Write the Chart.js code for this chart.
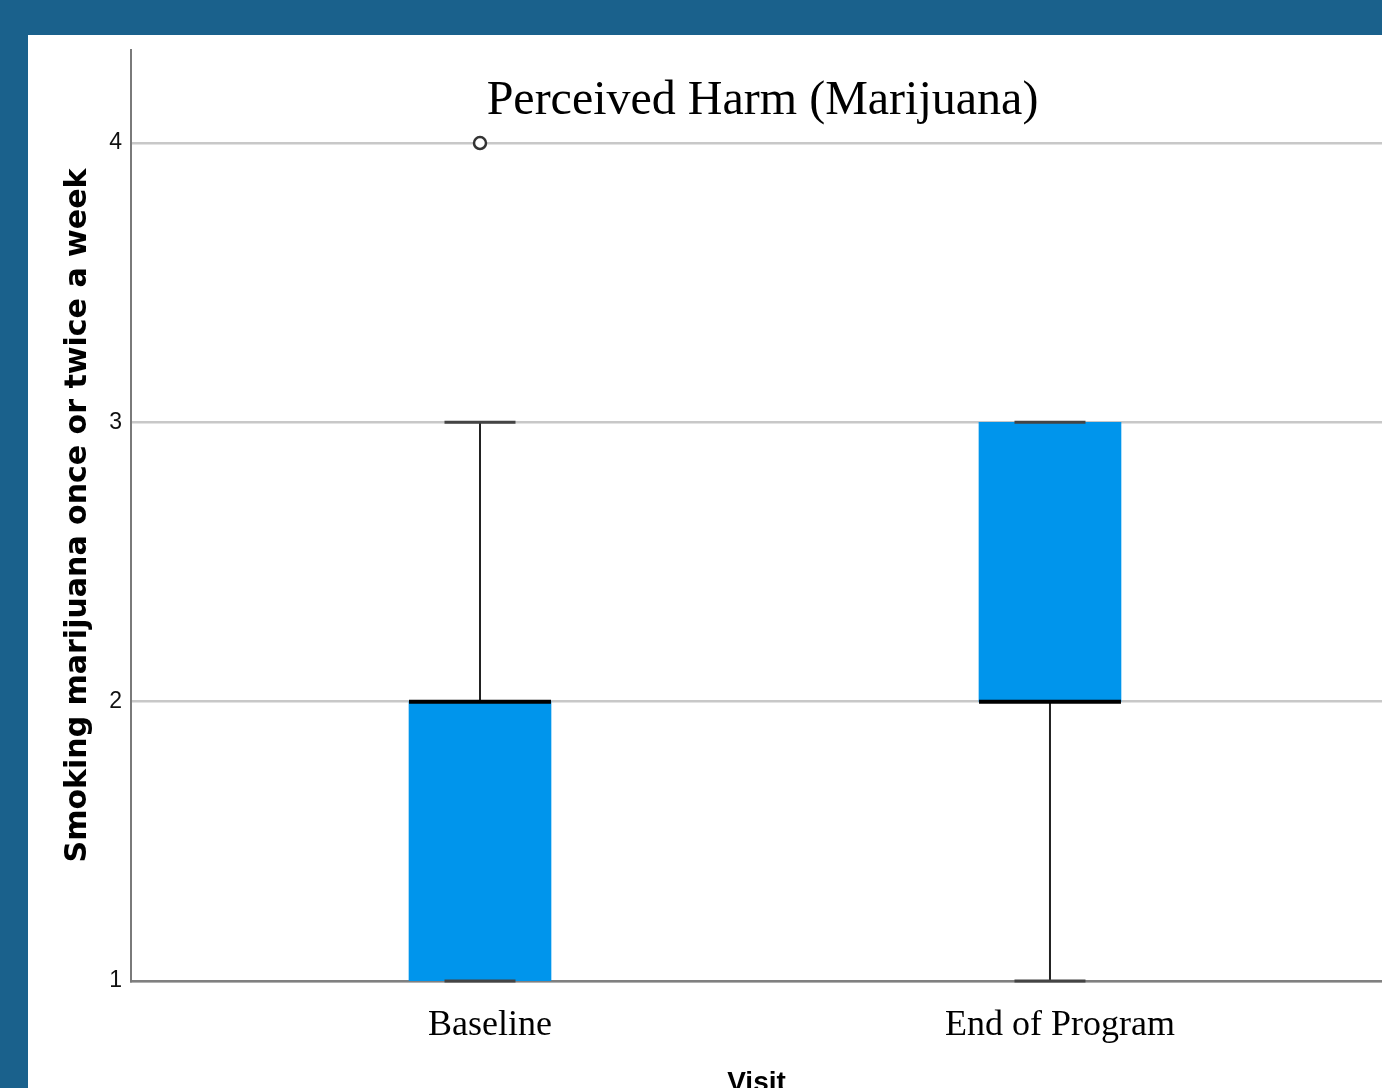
<!DOCTYPE html>
<html>
<head>
<meta charset="utf-8">
<title>Perceived Harm (Marijuana)</title>
<script src="https://cdn.jsdelivr.net/npm/chart.js@4"></script>
<style>
  html, body { margin: 0; padding: 0; overflow: hidden; background: #1a618c; }
  #panel { position: absolute; left: 28px; top: 35px; width: 1354px; height: 1053px; background: #fff; overflow: hidden; }
  #boxChart { display: block; }
</style>
</head>
<body>
<div id="panel"><canvas id="boxChart" width="1354" height="1075"></canvas></div>
<script>
// visits and box summary per visit
const visits = ['Baseline', 'End of Program'];
const lowerWhisker = [1, 1];
const q1 = [1, 2];
const median = [2, 2];
const q3 = [2, 3];
const upperWhisker = [3, 3];
const outliers = [[4], []];
const yTicks = [1, 2, 3, 4];

const boxBlue = '#0095ec';

// whiskers, caps and medians on top of the floating bars
const boxParts = {
    id: 'boxParts',
    afterDatasetsDraw(chart) {
        const ctx = chart.ctx;
        const xs = chart.scales.x, ys = chart.scales.y;
        const bars = chart.getDatasetMeta(0).data;
        ctx.save();
        visits.forEach((v, i) => {
            const cx = xs.getPixelForValue(i);
            const half = bars[i].width / 2;
            // whisker stems
            ctx.strokeStyle = '#222';
            ctx.lineWidth = 2;
            ctx.beginPath();
            ctx.moveTo(cx, ys.getPixelForValue(q3[i]));
            ctx.lineTo(cx, ys.getPixelForValue(upperWhisker[i]));
            ctx.moveTo(cx, ys.getPixelForValue(q1[i]));
            ctx.lineTo(cx, ys.getPixelForValue(lowerWhisker[i]));
            ctx.stroke();
            // caps
            ctx.strokeStyle = '#444';
            ctx.lineWidth = 3;
            ctx.beginPath();
            [upperWhisker[i], lowerWhisker[i]].forEach(w => {
                const y = ys.getPixelForValue(w);
                ctx.moveTo(cx - half / 2, y);
                ctx.lineTo(cx + half / 2, y);
            });
            ctx.stroke();
            // median
            ctx.strokeStyle = '#000';
            ctx.lineWidth = 4;
            ctx.beginPath();
            const my = ys.getPixelForValue(median[i]);
            ctx.moveTo(cx - half, my);
            ctx.lineTo(cx + half, my);
            ctx.stroke();
        });
        ctx.restore();
    }
};

// chart heading sits inside the plot area
const heading = {
    id: 'heading',
    afterDraw(chart) {
        const {ctx, chartArea} = chart;
        ctx.save();
        ctx.font = '48px "Liberation Serif", "Times New Roman", serif';
        ctx.fillStyle = '#000';
        ctx.textAlign = 'center';
        ctx.textBaseline = 'alphabetic';
        ctx.fillText('Perceived Harm (Marijuana)', (chartArea.left + chartArea.right) / 2 + 6, chartArea.top + 64);
        ctx.restore();
    }
};

const ctx = document.getElementById('boxChart').getContext('2d');
const boxChart = new Chart(ctx, {
    type: 'bar',
    data: {
        datasets: [
            {
                label: 'IQR',
                data: visits.map((v, i) => ({x: i, y: [q1[i], q3[i]]})),
                backgroundColor: boxBlue,
                borderWidth: 0,
                barThickness: 142,
                order: 2
            },
            {
                type: 'scatter',
                label: 'Outliers',
                data: outliers.flatMap((list, i) => list.map(o => ({x: i, y: o}))),
                pointStyle: 'circle',
                pointRadius: 6,
                pointBorderWidth: 2.5,
                pointBorderColor: '#333',
                pointBackgroundColor: '#fff',
                order: 1
            }
        ]
    },
    options: {
        responsive: false,
        animation: false,
        devicePixelRatio: 1,
        layout: { autoPadding: false, padding: { top: 15, left: 0, right: 0, bottom: 0 } },
        plugins: {
            legend: { display: false },
            tooltip: { enabled: false }
        },
        scales: {
            x: {
                type: 'linear',
                offset: false,
                min: -0.6123,
                max: 1.5825,
                afterBuildTicks: (scale) => { scale.ticks = visits.map((v, i) => ({value: i})); },
                afterFit: (scale) => {
                    scale.height = 129;
                    scale.paddingLeft = 0;
                    scale.paddingRight = 0;
                },
                grid: { display: false, drawTicks: false },
                border: { display: true, color: '#808080', width: 2.5 },
                ticks: {
                    autoSkip: false,
                    maxRotation: 0,
                    padding: 23,
                    labelOffset: 10,
                    color: '#000',
                    font: { family: '"Liberation Serif", "Times New Roman", serif', size: 36 },
                    callback: (value) => visits[value]
                },
                title: {
                    display: true,
                    text: 'Visit',
                    color: '#000',
                    padding: { top: 0, bottom: 10 },
                    font: { family: '"Liberation Sans Narrow", "Liberation Sans", sans-serif', size: 28, weight: 'bold' }
                }
            },
            y: {
                type: 'linear',
                min: 1,
                max: 4.333,
                afterBuildTicks: (scale) => { scale.ticks = yTicks.map(v => ({value: v})); },
                afterFit: (scale) => {
                    scale.width = 103;
                    scale.paddingTop = 0;
                    scale.paddingBottom = 0;
                },
                grid: { color: '#c8c8c8', lineWidth: 2.5, drawTicks: false },
                border: { display: true, color: '#7a7a7a', width: 2 },
                ticks: {
                    padding: 9,
                    color: '#111',
                    font: { family: '"Liberation Sans Narrow", "Liberation Sans", sans-serif', size: 23 }
                },
                title: {
                    display: true,
                    text: 'Smoking marijuana once or twice a week',
                    color: '#000',
                    padding: { top: 32, bottom: 0 },
                    font: { family: '"DejaVu Sans", Verdana, sans-serif', size: 30, weight: 'bold' }
                }
            }
        }
    },
    plugins: [boxParts, heading]
});
</script>
</body>
</html>
